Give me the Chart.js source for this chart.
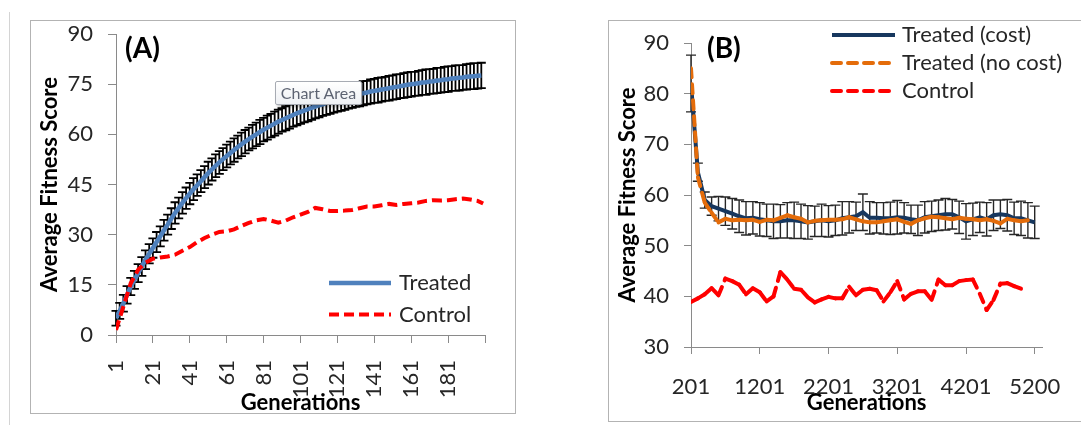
<!DOCTYPE html>
<html>
<head>
<meta charset="utf-8">
<script src="https://cdn.jsdelivr.net/npm/chart.js@4.4.1/dist/chart.umd.min.js"></script>
<style>
  html, body { margin: 0; padding: 0; background: #fff; width: 1081px; height: 425px; overflow: hidden; position: relative; font-family: Lato, sans-serif; }
  .frame { position: absolute; border: 1.5px solid #b3b3b3; box-sizing: border-box; }
  #frameA { left: 30px; top: 20px; width: 486px; height: 394px; }
  #frameB { left: 608px; top: 20px; width: 520px; height: 402px; }
  #sep { position: absolute; left: 9px; top: 12px; width: 1px; height: 413px; background: #d4d4d4; }
  canvas { position: absolute; top: 0; }
  #chartA { left: 0; }
  #chartB { left: 560px; }
  #tip {
    position: absolute; left: 275px; top: 81px; width: 87px; height: 24px; box-sizing: border-box;
    border: 1px solid #a7abb3; border-radius: 2px; background: linear-gradient(#ffffff, #eef0f4);
    box-shadow: 2px 2px 3px rgba(0, 0, 0, 0.25); color: #5d6372; font: 16px Lato, sans-serif;
    line-height: 22px; text-align: center;
  }
</style>
</head>
<body>
<div id="sep"></div>
<div class="frame" id="frameA"></div>
<div class="frame" id="frameB"></div>
<canvas id="chartA" width="540" height="425"></canvas>
<canvas id="chartB" width="521" height="425"></canvas>
<div id="tip">Chart Area</div>
<script>
// ---- Panel A data ----
const gensA = Array.from({ length: 100 }, (_, i) => 1 + 2 * i);
const treatedA = [
  5.0, 7.2, 9.5, 12.0, 14.5, 16.5, 18.5, 20.5, 22.5, 24.3,
  26.0, 27.8, 29.5, 31.3, 33.0, 34.8, 36.5, 38.0, 39.5, 40.9,
  42.3, 43.6, 44.8, 46.0, 47.2, 48.4, 49.5, 50.6, 51.6, 52.6,
  53.5, 54.4, 55.3, 56.2, 57.0, 57.8, 58.6, 59.3, 60.0, 60.7,
  61.4, 62.0, 62.6, 63.2, 63.8, 64.3, 64.8, 65.3, 65.8, 66.3,
  66.7, 67.1, 67.5, 67.9, 68.3, 68.7, 69.0, 69.4, 69.7, 70.0,
  70.3, 70.6, 70.9, 71.2, 71.5, 71.7, 72.0, 72.3, 72.5, 72.8,
  73.0, 73.2, 73.4, 73.6, 73.8, 74.0, 74.2, 74.4, 74.6, 74.8,
  75.0, 75.1, 75.3, 75.5, 75.6, 75.8, 75.9, 76.1, 76.2, 76.4,
  76.5, 76.7, 76.8, 76.9, 77.0, 77.2, 77.3, 77.4, 77.5, 77.6
];
const treatedErrA = [
  2.2, 2.4, 2.5, 2.6, 2.6, 2.7, 2.7, 2.8, 2.8, 2.9,
  2.9, 3.0, 3.0, 3.1, 3.0, 3.1, 3.2, 3.1, 3.2, 3.2,
  3.2, 3.3, 3.2, 3.3, 3.3, 3.4, 3.3, 3.4, 3.4, 3.3,
  3.4, 3.4, 3.5, 3.4, 3.5, 3.5, 3.4, 3.5, 3.5, 3.6,
  3.5, 3.6, 3.5, 3.6, 3.6, 3.5, 3.6, 3.6, 3.5, 3.6,
  3.6, 3.5, 3.6, 3.6, 3.5, 3.6, 3.5, 3.6, 3.6, 3.5,
  3.5, 3.6, 3.6, 3.5, 3.6, 3.5, 3.6, 3.6, 3.5, 3.6,
  3.6, 3.7, 3.6, 3.6, 3.7, 3.6, 3.7, 3.6, 3.7, 3.7,
  3.7, 3.6, 3.7, 3.7, 3.8, 3.7, 3.7, 3.8, 3.7, 3.8,
  3.8, 3.7, 3.8, 3.8, 3.7, 3.8, 3.8, 3.9, 3.8, 3.8
];
const gensCtlA = [
  1, 5, 9, 13, 17, 21, 25, 29, 33, 37, 41, 45, 49, 53, 57, 61, 65, 69, 73, 77,
  81, 85, 89, 93, 97, 101, 105, 109, 113, 117, 121, 125, 129, 133, 137, 141, 145, 149, 153, 157,
  161, 165, 169, 173, 177, 181, 185, 189, 193, 197, 200
];
const controlA = [
  1.5, 8.5, 15.5, 19.5, 21.6, 22.8, 23.2, 23.5, 24.0, 25.2,
  26.3, 27.8, 29.0, 30.0, 30.8, 31.0, 31.6, 32.6, 33.5, 34.3,
  34.7, 34.2, 33.6, 34.2, 35.2, 36.0, 36.8, 38.0, 37.6, 37.1,
  37.1, 37.2, 37.4, 37.9, 38.4, 38.4, 38.8, 39.2, 38.9, 39.2,
  39.4, 39.6, 40.1, 40.3, 40.2, 40.3, 40.6, 40.8, 40.5, 40.1, 39.3
];
const tickValsA = [1, 21, 41, 61, 81, 101, 121, 141, 161, 181, 201];
const tickLabelsA = ['1', '21', '41', '61', '81', '101', '121', '141', '161', '181', ''];

// ---- Panel B data ----
const gensB = [
  201, 301, 401, 501, 601, 701, 801, 901, 1001, 1101,
  1201, 1301, 1401, 1501, 1601, 1701, 1801, 1901, 2001, 2101,
  2201, 2301, 2401, 2501, 2601, 2701, 2801, 2901, 3001, 3101,
  3201, 3301, 3401, 3501, 3601, 3701, 3801, 3901, 4001, 4101,
  4201, 4301, 4401, 4501, 4601, 4701, 4801, 4901, 5001, 5101, 5200
];
const costB = [
  82.0, 64.5, 59.0, 57.8, 57.3, 56.8, 56.3, 55.8, 55.4, 55.5,
  55.2, 55.0, 54.8, 54.8, 55.0, 55.0, 54.8, 54.6, 54.8, 55.0,
  54.8, 55.0, 55.4, 55.6, 55.8, 56.6, 55.5, 55.5, 55.4, 55.4,
  55.6, 55.5, 55.2, 55.0, 55.6, 55.8, 56.0, 56.2, 56.2, 55.6,
  54.8, 55.2, 55.6, 55.2, 56.0, 56.2, 56.0, 55.4, 55.4, 55.0, 54.6
];
const costErrB = [
  5.6, 1.8, 1.6, 1.8, 2.4, 2.8, 3.0, 3.2, 3.3, 3.2,
  3.3, 3.2, 3.4, 3.3, 3.5, 3.6, 3.4, 3.3, 3.0, 3.2,
  3.1, 3.0, 3.3, 3.1, 2.8, 3.6, 3.2, 3.0, 3.1, 3.2,
  3.3, 3.0, 2.8, 3.0, 3.1, 3.0, 3.0, 3.1, 2.9, 3.2,
  3.5, 3.2, 3.0, 3.3, 3.0, 2.8, 3.1, 3.2, 3.4, 3.5, 3.2
];
const noCostB = [
  85.0, 63.5, 58.5, 56.5, 54.6, 55.3, 55.0, 55.1, 55.0, 55.1,
  54.7, 55.1, 55.0, 55.5, 56.0, 55.6, 55.3, 54.6, 54.9, 55.0,
  55.1, 55.1, 55.2, 55.6, 55.2, 54.8, 54.6, 54.6, 54.8, 55.0,
  55.2, 54.7, 54.3, 55.0, 55.4, 55.7, 55.6, 55.4, 55.2, 55.5,
  55.3, 55.2, 55.0, 55.2, 54.9, 54.4, 55.3, 55.0, 54.8, 55.0
];
const controlB = [
  38.9, 39.6, 40.4, 41.6, 40.2, 43.5, 43.0, 42.3, 40.4, 41.6,
  40.8, 39.0, 40.0, 44.8, 43.3, 41.5, 41.3, 39.8, 38.8, 39.4,
  39.9, 39.6, 39.6, 41.9, 40.2, 41.3, 41.5, 41.2, 39.0, 40.8,
  43.0, 39.4, 40.5, 41.0, 41.0, 39.3, 43.3, 42.2, 42.2, 43.0,
  43.2, 43.3, 40.5, 37.3, 39.3, 42.5, 42.6, 42.0, 41.5
];
const tickValsB = [201, 1201, 2201, 3201, 4201, 5200];
const tickLabelsB = ['201', '1201', '2201', '3201', '4201', '5200'];

const AXIS = '#8a8a8a';
const TEXT = '#262626';
Chart.defaults.font.family = 'Lato, sans-serif';

const toPoints = (xs, ys) => ys.map((y, i) => ({ x: xs[i], y: y }));

// draws vertical error bars with caps underneath the lines
const errorBars = {
  id: 'errorBars',
  beforeDatasetsDraw(chart, args, opts) {
    const ctx = chart.ctx;
    const yScale = chart.scales.y;
    chart.data.datasets.forEach((ds, di) => {
      if (!ds.errors) return;
      const meta = chart.getDatasetMeta(di);
      ctx.save();
      ctx.strokeStyle = opts.color;
      ctx.lineWidth = opts.width;
      ctx.beginPath();
      meta.data.forEach((pt, i) => {
        const v = ds.data[i].y;
        const e = ds.errors[i];
        const top = yScale.getPixelForValue(v + e);
        const bot = yScale.getPixelForValue(v - e);
        const x = pt.x;
        ctx.moveTo(x, top); ctx.lineTo(x, bot);
        ctx.moveTo(x - opts.cap, top); ctx.lineTo(x + opts.cap, top);
        ctx.moveTo(x - opts.cap, bot); ctx.lineTo(x + opts.cap, bot);
      });
      ctx.stroke();
      ctx.restore();
    });
  }
};

// panel letter and the in-plot legend
const panelText = {
  id: 'panelText',
  afterDraw(chart, args, opts) {
    const ctx = chart.ctx;
    ctx.save();
    ctx.fillStyle = '#000';
    ctx.textBaseline = 'middle';
    ctx.textAlign = 'left';
    ctx.font = 'bold 28px Lato, sans-serif';
    ctx.fillText(opts.panel, opts.panelX, opts.panelY);
    ctx.font = '22px Lato, sans-serif';
    opts.order.forEach((di, row) => {
      const ds = chart.data.datasets[di];
      const y = opts.y0 + row * opts.rowH;
      ctx.beginPath();
      ctx.strokeStyle = ds.borderColor;
      ctx.lineWidth = ds.borderWidth;
      ctx.lineCap = ds.borderCapStyle || 'butt';
      ctx.setLineDash(ds.borderDash || []);
      ctx.moveTo(opts.x1, y);
      ctx.lineTo(opts.x2, y);
      ctx.stroke();
      ctx.setLineDash([]);
      ctx.fillStyle = TEXT;
      ctx.fillText(ds.label, opts.textX, y);
    });
    ctx.restore();
  }
};

const tickFont = { size: 22 };
const titleFont = { size: 22, weight: 'bold' };

new Chart(document.getElementById('chartA'), {
  type: 'line',
  data: {
    datasets: [
      {
        label: 'Treated',
        data: toPoints(gensA, treatedA),
        errors: treatedErrA,
        borderColor: '#4F81BD',
        borderWidth: 4.5,
        pointRadius: 0,
        order: 2
      },
      {
        label: 'Control',
        data: toPoints(gensCtlA, controlA),
        borderColor: '#FF0000',
        borderWidth: 4,
        borderDash: [10, 5],
        pointRadius: 0,
        order: 1
      }
    ]
  },
  options: {
    responsive: false,
    animation: false,
    layout: { padding: { top: 34, right: 55, bottom: 0, left: 0 } },
    plugins: {
      legend: { display: false },
      tooltip: { enabled: false },
      errorBars: { color: '#000', width: 1.8, cap: 4.5 },
      panelText: { panel: '(A)', panelX: 125, panelY: 49, order: [0, 1], x1: 329, x2: 391, textX: 399, y0: 283, rowH: 31.5 }
    },
    scales: {
      x: {
        type: 'linear',
        min: 1,
        max: 201,
        afterBuildTicks: s => { s.ticks = tickValsA.map(v => ({ value: v })); },
        afterFit: s => { s.height = 90; },
        ticks: { autoSkip: false, minRotation: 90, maxRotation: 90, padding: 17, color: TEXT, font: tickFont,
                 callback: (v, i) => tickLabelsA[i] },
        grid: { drawOnChartArea: false, tickLength: 8, color: AXIS },
        border: { color: AXIS },
        title: { display: true, text: 'Generations', color: '#000', font: titleFont, padding: { top: 0, bottom: 9 } }
      },
      y: {
        min: 0,
        max: 90,
        afterFit: s => { s.width = 116; },
        ticks: { stepSize: 15, padding: 15, color: TEXT, font: tickFont },
        grid: { drawOnChartArea: false, tickLength: 8, color: AXIS },
        border: { color: AXIS },
        title: { display: true, text: 'Average Fitness Score', color: '#000', font: titleFont, padding: { top: 37, bottom: 0 } }
      }
    }
  },
  plugins: [errorBars, panelText]
});

// restart the dash on every segment, like the spreadsheet does
const perSegment = { borderDashOffset: c => (c.p0DataIndex % 2) * 0.001 };

new Chart(document.getElementById('chartB'), {
  type: 'line',
  data: {
    datasets: [
      {
        label: 'Treated (cost)',
        data: toPoints(gensB, costB),
        errors: costErrB,
        borderColor: '#17375E',
        borderWidth: 4,
        pointRadius: 0,
        order: 3
      },
      {
        label: 'Treated (no cost)',
        data: toPoints(gensB, noCostB),
        borderColor: '#E46C0A',
        borderWidth: 4,
        borderDash: [9, 7],
        borderCapStyle: 'round',
        segment: perSegment,
        pointRadius: 0,
        order: 2
      },
      {
        label: 'Control',
        data: toPoints(gensB, controlB),
        borderColor: '#FF0000',
        borderWidth: 4,
        borderDash: [9, 7],
        borderCapStyle: 'round',
        segment: perSegment,
        pointRadius: 0,
        order: 1
      }
    ]
  },
  options: {
    responsive: false,
    animation: false,
    layout: { padding: { top: 43, right: 36, bottom: 0, left: 0 } },
    plugins: {
      legend: { display: false },
      tooltip: { enabled: false },
      errorBars: { color: '#262626', width: 1.4, cap: 5 },
      panelText: { panel: '(B)', panelX: 147, panelY: 49, order: [0, 1, 2], x1: 272, x2: 335, textX: 342, y0: 35, rowH: 28 }
    },
    scales: {
      x: {
        type: 'linear',
        min: 201,
        max: 5311,
        afterBuildTicks: s => { s.ticks = tickValsB.map(v => ({ value: v })); },
        afterFit: s => { s.height = 78; },
        ticks: { autoSkip: false, minRotation: 0, maxRotation: 0, padding: 20, color: TEXT, font: tickFont,
                 callback: (v, i) => tickLabelsB[i] },
        grid: { drawOnChartArea: false, tickLength: 7, color: AXIS },
        border: { color: AXIS },
        title: { display: true, text: 'Generations', color: '#000', font: titleFont, padding: { top: 0, bottom: 9 } }
      },
      y: {
        min: 30,
        max: 90,
        afterFit: s => { s.width = 131; },
        ticks: { stepSize: 10, padding: 15, color: TEXT, font: tickFont },
        grid: { drawOnChartArea: false, tickLength: 7, color: AXIS },
        border: { color: AXIS },
        title: { display: true, text: 'Average Fitness Score', color: '#000', font: titleFont, padding: { top: 55, bottom: 0 } }
      }
    }
  },
  plugins: [errorBars, panelText]
});
</script>
</body>
</html>
